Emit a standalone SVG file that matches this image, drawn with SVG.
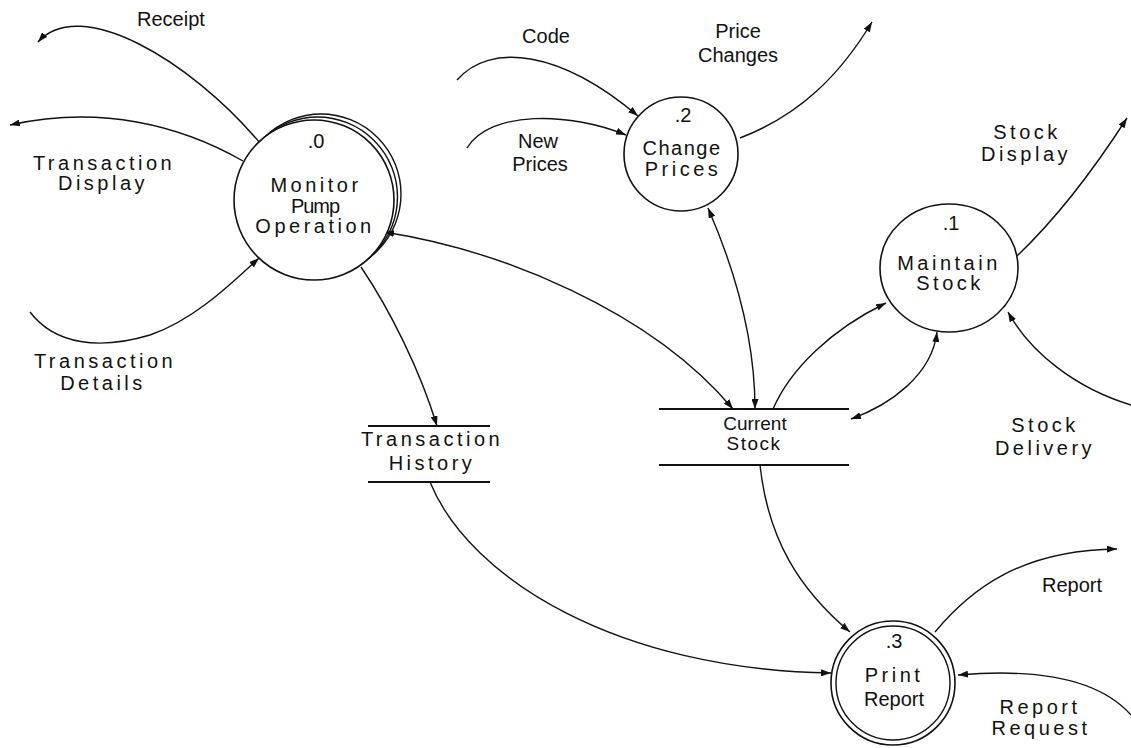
<svg xmlns="http://www.w3.org/2000/svg" width="1131" height="748" viewBox="0 0 1131 748">
  <style>
    .bg { fill: #ffffff; }
    .proc { fill: #ffffff; stroke: #111; stroke-width: 1.6; }
    .procback { fill: none; stroke: #111; stroke-width: 1.4; }
    .store { stroke: #111; stroke-width: 2; }
    .flow { fill: none; stroke: #111; stroke-width: 1.4; }
    text { font-family: "Liberation Sans", Arial, Helvetica, sans-serif; font-size: 20px; fill: #111; text-anchor: middle; }
    .sp { letter-spacing: 3.5px; }
    .sp2 { letter-spacing: 1.5px; }
    .st { text-anchor: start; }
    .small { font-size: 19px; }
  </style>
  <defs>
    <marker id="arrow" viewBox="0 0 10 7" refX="10" refY="3.5" markerWidth="10" markerHeight="7" markerUnits="userSpaceOnUse" orient="auto-start-reverse">
      <path d="M0,0 L10,3.5 L0,7 z" fill="#111"/>
    </marker>
  </defs>
  <rect class="bg" x="0" y="0" width="1131" height="748"/>

  <!-- data flows -->
  <g id="connectors">
    <!-- Monitor Pump Operation externals -->
    <path class="flow" d="M260,143 C190,60 80,-5 38,42" marker-end="url(#arrow)"/>
    <path class="flow" d="M243,161 C180,125 100,105 10,125" marker-end="url(#arrow)"/>
    <path class="flow" d="M30,312 C55,345 100,350 150,335 C195,320 235,280 259,258" marker-end="url(#arrow)"/>
    <!-- Monitor <-> Current Stock -->
    <path class="flow" d="M384,232 C500,250 650,310 733,409" marker-start="url(#arrow)" marker-end="url(#arrow)"/>
    <!-- Monitor -> Transaction History -->
    <path class="flow" d="M361,267 C390,310 420,370 437,426" marker-end="url(#arrow)"/>
    <!-- Change Prices inputs/outputs -->
    <path class="flow" d="M457,80 C490,42 560,50 638,116" marker-end="url(#arrow)"/>
    <path class="flow" d="M467,148 C490,110 570,112 626,135" marker-end="url(#arrow)"/>
    <path class="flow" d="M740,138 C800,115 840,75 872,22" marker-end="url(#arrow)"/>
    <!-- Change Prices <-> Current Stock -->
    <path class="flow" d="M708,208 C735,270 755,340 755,409" marker-start="url(#arrow)" marker-end="url(#arrow)"/>
    <!-- Current Stock -> Maintain Stock -->
    <path class="flow" d="M773,409 C790,370 830,330 886,303" marker-end="url(#arrow)"/>
    <!-- Maintain Stock <-> Current Stock -->
    <path class="flow" d="M937,332 C932,375 890,405 851,419" marker-start="url(#arrow)" marker-end="url(#arrow)"/>
    <!-- Stock Delivery -->
    <path class="flow" d="M1131,405 C1075,388 1030,352 1008,312" marker-end="url(#arrow)"/>
    <!-- Stock Display -->
    <path class="flow" d="M1017,256 C1060,215 1100,160 1127,118" marker-end="url(#arrow)"/>
    <!-- Current Stock -> Print Report -->
    <path class="flow" d="M760,465 C768,540 800,590 850,632" marker-end="url(#arrow)"/>
    <!-- Transaction History -> Print Report -->
    <path class="flow" d="M430,482 C470,580 620,670 831,673" marker-end="url(#arrow)"/>
    <!-- Report -->
    <path class="flow" d="M935,632 C970,590 1020,550 1117,549" marker-end="url(#arrow)"/>
    <!-- Report Request -->
    <path class="flow" d="M1131,715 C1100,680 1040,668 958,675" marker-end="url(#arrow)"/>
  </g>

  <!-- flow labels -->
  <g id="flow-labels">
    <text class="st" x="137" y="26">Receipt</text>
    <text class="sp" x="104" y="170">Transaction</text>
    <text class="sp" x="103" y="190">Display</text>
    <text class="sp" x="105" y="368">Transaction</text>
    <text class="sp" x="103" y="390">Details</text>
    <text x="546" y="43">Code</text>
    <text x="538" y="148">New</text>
    <text x="540" y="171">Prices</text>
    <text x="738" y="38">Price</text>
    <text x="738" y="62">Changes</text>
    <text class="sp" x="1027" y="139">Stock</text>
    <text class="sp" x="1026" y="161">Display</text>
    <text class="sp" x="1045" y="432">Stock</text>
    <text class="sp" x="1045" y="455">Delivery</text>
    <text x="1072" y="592">Report</text>
    <text class="sp" x="1040" y="714">Report</text>
    <text class="sp" x="1041" y="735">Request</text>
  </g>

  <!-- process 0 -->
  <g id="node-monitor-pump-operation">
    <circle class="procback" cx="321" cy="194" r="80"/>
    <circle class="procback" cx="317.5" cy="197" r="80"/>
    <circle class="proc" cx="314" cy="200" r="80"/>
    <text x="316" y="148">.0</text>
    <text class="sp" x="316" y="192">Monitor</text>
    <text x="315" y="213" style="letter-spacing:-1px">Pump</text>
    <text class="sp" x="315" y="233">Operation</text>
  </g>

  <!-- process 2 -->
  <g id="node-change-prices">
    <circle class="proc" cx="681" cy="154" r="57"/>
    <text x="683" y="122">.2</text>
    <text class="sp2" x="682" y="155">Change</text>
    <text class="sp" x="683" y="176">Prices</text>
  </g>

  <!-- process 1 -->
  <g id="node-maintain-stock">
    <ellipse class="proc" cx="949" cy="268" rx="69" ry="64"/>
    <text x="951" y="230">.1</text>
    <text class="sp" x="949" y="270">Maintain</text>
    <text class="sp" x="950" y="290">Stock</text>
  </g>

  <!-- process 3 -->
  <g id="node-print-report">
    <circle class="proc" cx="893" cy="683" r="62"/>
    <circle class="procback" cx="893" cy="683" r="57"/>
    <text x="894" y="648">.3</text>
    <text class="sp" x="894" y="682">Print</text>
    <text x="894" y="706">Report</text>
  </g>

  <!-- data stores -->
  <g id="store-transaction-history">
    <line class="store" x1="368" y1="426" x2="490" y2="426"/>
    <line class="store" x1="368" y1="482" x2="490" y2="482"/>
    <text class="sp" x="432" y="446">Transaction</text>
    <text class="sp" x="432" y="470">History</text>
  </g>

  <g id="store-current-stock">
    <line class="store" x1="659" y1="409" x2="849" y2="409"/>
    <line class="store" x1="659" y1="465" x2="849" y2="465"/>
    <text class="small" x="755" y="430">Current</text>
    <text class="small sp2" x="754" y="450">Stock</text>
  </g>
</svg>
